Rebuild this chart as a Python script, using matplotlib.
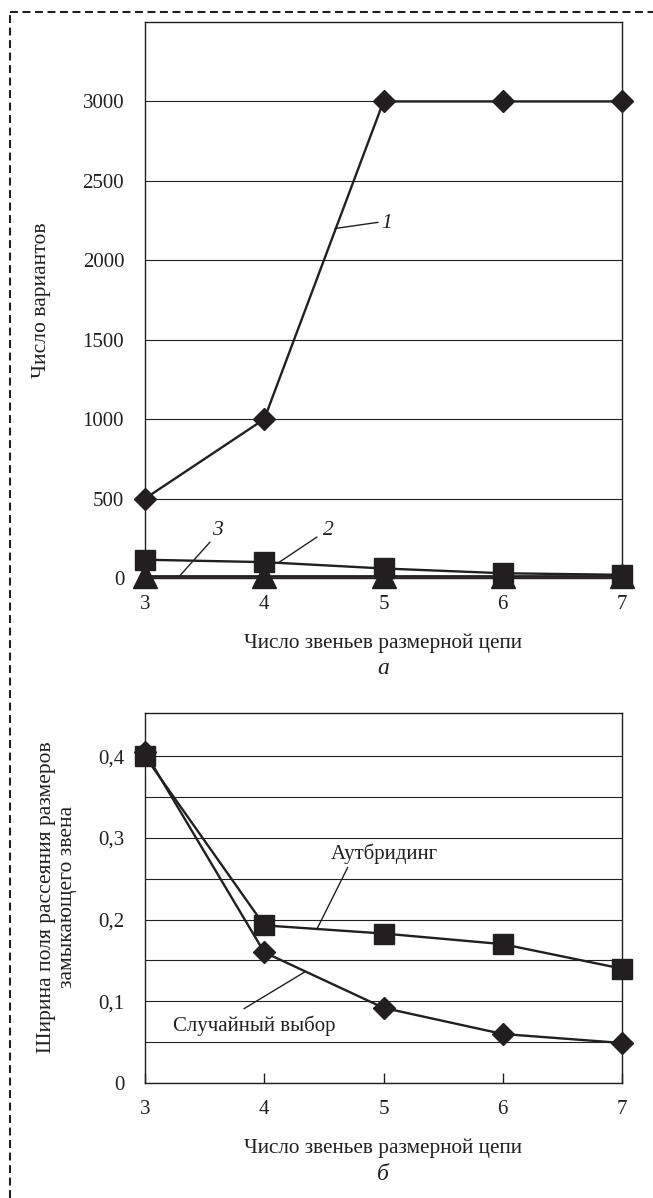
import matplotlib
matplotlib.use('Agg')
import matplotlib.pyplot as plt
from matplotlib.lines import Line2D
from matplotlib.ticker import MultipleLocator, FixedLocator, FuncFormatter

plt.rcParams['font.family'] = ['Liberation Serif', 'DejaVu Serif']

# Chart (a): number of variants vs. number of links in the dimension chain
links = [3, 4, 5, 6, 7]
variants_1 = [500, 1000, 3000, 3000, 3000]   # curve 1, diamonds
variants_2 = [115, 100, 60, 30, 20]          # curve 2, squares
variants_3 = [15, 15, 15, 15, 15]            # curve 3, triangles

# Chart (б): scatter field width of the closing link
outbreeding = [0.40, 0.193, 0.183, 0.170, 0.140]
random_choice = [0.405, 0.160, 0.092, 0.060, 0.049]

ink = '#231f20'
W, H = 653, 1198
fig = plt.figure(figsize=(W / 100, H / 100), dpi=100)


def px_axes(left, top, right, bottom):
    return fig.add_axes([left / W, 1 - bottom / H, (right - left) / W, (bottom - top) / H])


def style(ax):
    for s in ax.spines.values():
        s.set_linewidth(1.0)
        s.set_color(ink)
    ax.set_xlim(3, 7)
    ax.set_xticks(links)
    ax.tick_params(axis='x', direction='in', length=7, width=1, pad=12,
                   labelsize=15, colors=ink)
    ax.tick_params(axis='y', which='both', length=0, pad=15, labelsize=15, colors=ink)
    ax.set_axisbelow(True)


# ---- (a) ----
ax1 = px_axes(145, 22, 622, 578)
style(ax1)
ax1.set_ylim(0, 3500)
ax1.set_yticks(range(0, 3001, 500))
ax1.grid(axis='y', color=ink, linewidth=0.8)

ax1.plot(links, variants_1, color=ink, lw=1.7, marker='D', ms=11, clip_on=False, zorder=5)
ax1.plot(links, variants_2, color=ink, lw=1.7, marker='s', ms=14, clip_on=False, zorder=4)
ax1.plot(links, variants_3, color=ink, lw=2.0, marker='^', ms=17, clip_on=False, zorder=3)

leader = dict(arrowstyle='-', lw=1.0, color=ink, shrinkA=0, shrinkB=0)
ax1.annotate('', xy=(4.593, 2200), xytext=(4.954, 2239), arrowprops=leader)
ax1.text(5.03, 2233, '1', fontsize=15.5, style='italic', ha='center', va='center', color=ink)
ax1.annotate('', xy=(4.115, 94), xytext=(4.442, 258), arrowprops=leader)
ax1.text(4.535, 302, '2', fontsize=15.5, style='italic', ha='center', va='center', color=ink)
ax1.annotate('', xy=(3.293, 15), xytext=(3.545, 226), arrowprops=leader)
ax1.text(3.604, 302, '3', fontsize=15.5, style='italic', ha='center', va='center', color=ink)

fig.text(42 / W, 1 - 300 / H, 'Число вариантов', rotation=90, ha='center', va='center',
         fontsize=15.5, color=ink)
fig.text(383 / W, 1 - 643 / H, 'Число звеньев размерной цепи', ha='center', va='center',
         fontsize=15.3, color=ink)
fig.text(383 / W, 1 - 669 / H, 'а', ha='center', va='center', fontsize=17,
         style='italic', color=ink)

# ---- (б) ----
ax2 = px_axes(145, 713, 622, 1083)
style(ax2)
ax2.set_ylim(0, 0.453)
ax2.yaxis.set_major_locator(MultipleLocator(0.1))
ax2.yaxis.set_minor_locator(FixedLocator([0.05, 0.15, 0.25, 0.35]))
ax2.yaxis.set_major_formatter(FuncFormatter(
    lambda v, p: '0' if abs(v) < 1e-9 else f'{v:.1f}'.replace('.', ',')))
ax2.grid(axis='y', which='both', color=ink, linewidth=0.8)

ax2.plot(links, random_choice, color=ink, lw=1.7, marker='D', ms=11, clip_on=False, zorder=5)
ax2.plot(links, outbreeding, color=ink, lw=1.7, marker='s', ms=14, clip_on=False, zorder=4)

ax2.annotate('', xy=(4.44, 0.188), xytext=(4.70, 0.264), arrowprops=leader)
ax2.text(5.01, 0.281, 'Аутбридинг', fontsize=15, ha='center', va='center', color=ink)
ax2.annotate('', xy=(4.34, 0.136), xytext=(3.83, 0.091), arrowprops=leader)
ax2.text(3.914, 0.070, 'Случайный выбор', fontsize=15, ha='center', va='center', color=ink)

fig.text(57 / W, 1 - 897 / H, 'Ширина поля рассеяния размеров\nзамыкающего звена',
         rotation=90, ha='center', va='center', fontsize=15.5, color=ink,
         multialignment='center', linespacing=1.15)
fig.text(383 / W, 1 - 1148 / H, 'Число звеньев размерной цепи', ha='center', va='center',
         fontsize=15.3, color=ink)
fig.text(383 / W, 1 - 1174 / H, 'б', ha='center', va='center', fontsize=17,
         style='italic', color=ink)

# dashed frame on the left and top edges
frame = dict(color=ink, lw=1.5, linestyle=(0, (3.8, 2.2)), transform=fig.transFigure)
fig.add_artist(Line2D([10 / W, 10 / W], [0, 1 - 12 / H], **frame))
fig.add_artist(Line2D([10 / W, 1], [1 - 12 / H, 1 - 12 / H], **frame))

fig.savefig('out.png', dpi=100)
